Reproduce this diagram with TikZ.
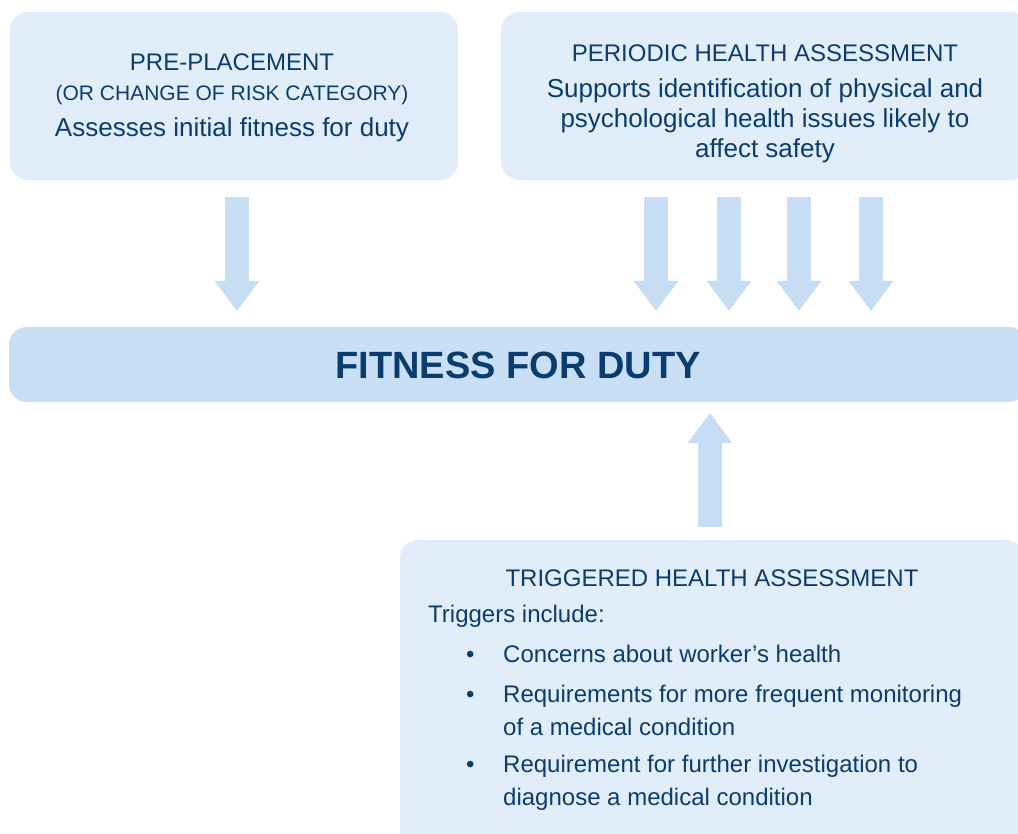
\documentclass[tikz,border=0pt]{standalone}
\usepackage{fontspec}
\setmainfont{Liberation Sans}
\usetikzlibrary{positioning,arrows.meta}
\definecolor{boxfill}{HTML}{E1EDF9}
\definecolor{fitfill}{HTML}{C8DFF5}
\definecolor{arrowfill}{HTML}{C6DDF4}
\definecolor{navy}{HTML}{0A3D6E}
\tikzset{
panel/.style={fill=boxfill, rounded corners=18pt, inner sep=0pt},
fatarrow/.style={draw=arrowfill, line width=24pt, -{Triangle[width=45pt, length=30pt, line width=0pt]}},
head/.style={text=navy, anchor=base, inner sep=0pt, font=\fontsize{24}{30}\selectfont},
body/.style={text=navy, anchor=base, inner sep=0pt, font=\fontsize{26}{30}\selectfont},
listtext/.style={text=navy, anchor=base west, inner sep=0pt, font=\fontsize{24}{32.5}\selectfont, align=left}
}

\begin{document}
\begin{tikzpicture}[x=1pt, y=-1pt]
  \useasboundingbox (0,0) rectangle (1018,834);
  \clip (0,0) rectangle (1018,834);
  % boxes
  \node[panel, minimum width=448pt, minimum height=168pt] (prebox) at (234,96) {};
  \node[panel, minimum width=528pt, minimum height=168pt] (perbox) at (765,96) {};
  \node[panel, fill=fitfill, minimum width=1018pt, minimum height=75pt] (fitbox) at (518,364.5) {};
  \node[panel, minimum width=624pt, minimum height=320pt] (trigbox) at (712,700) {};
  % texts (multi-line nodes sit on their last baseline)
  \node[head] (pretitle) at (232,71) {PRE-PLACEMENT};
  \node[head, font=\fontsize{21}{25}\selectfont] (presub) at (232,100.7) {(OR CHANGE OF RISK CATEGORY)};
  \node[body] (pretext) at (232,136.7) {Assesses initial fitness for duty};
  \node[head] (pertitle) at (765,61.7) {PERIODIC HEALTH ASSESSMENT};
  \node[body, align=center] (pertext) at (765,158) {Supports identification of physical and\\psychological health issues likely to\\affect safety};
  \node[text=navy, anchor=base, inner sep=0pt, font=\fontsize{38}{44}\selectfont\bfseries] (fitness) at (518,379) {FITNESS FOR DUTY};
  \node[head] (trigtitle) at (712,586) {TRIGGERED HEALTH ASSESSMENT};
  \node[listtext] (trigintro) at (428,622.7) {Triggers include:};
  \foreach \y/\yy/\n/\txt in {662.7/662.7/a/{Concerns about worker’s health},
                              702.5/735/b/{Requirements for more frequent monitoring\\of a medical condition},
                              772.5/805/c/{Requirement for further investigation to\\diagnose a medical condition}} {
    \node[listtext] (dot\n) at (466,\y) {\textbullet};
    \node[listtext] (item\n) at (503,\yy) {\txt};
  }
  % arrows
  \draw[fatarrow, shorten <=17pt, shorten >=16pt] ([xshift=3pt]prebox.south) -- ([xshift=3pt]prebox.south |- fitbox.north);
  \foreach \dx in {-109,-36,34,106}
    \draw[fatarrow, shorten <=17pt, shorten >=16pt] ([xshift=\dx pt]perbox.south) -- ([xshift=\dx pt]perbox.south |- fitbox.north);
  \draw[fatarrow, shorten <=13pt, shorten >=11pt] ([xshift=-2pt]trigbox.north) -- ([xshift=-2pt]trigbox.north |- fitbox.south);
\end{tikzpicture}
\end{document}
